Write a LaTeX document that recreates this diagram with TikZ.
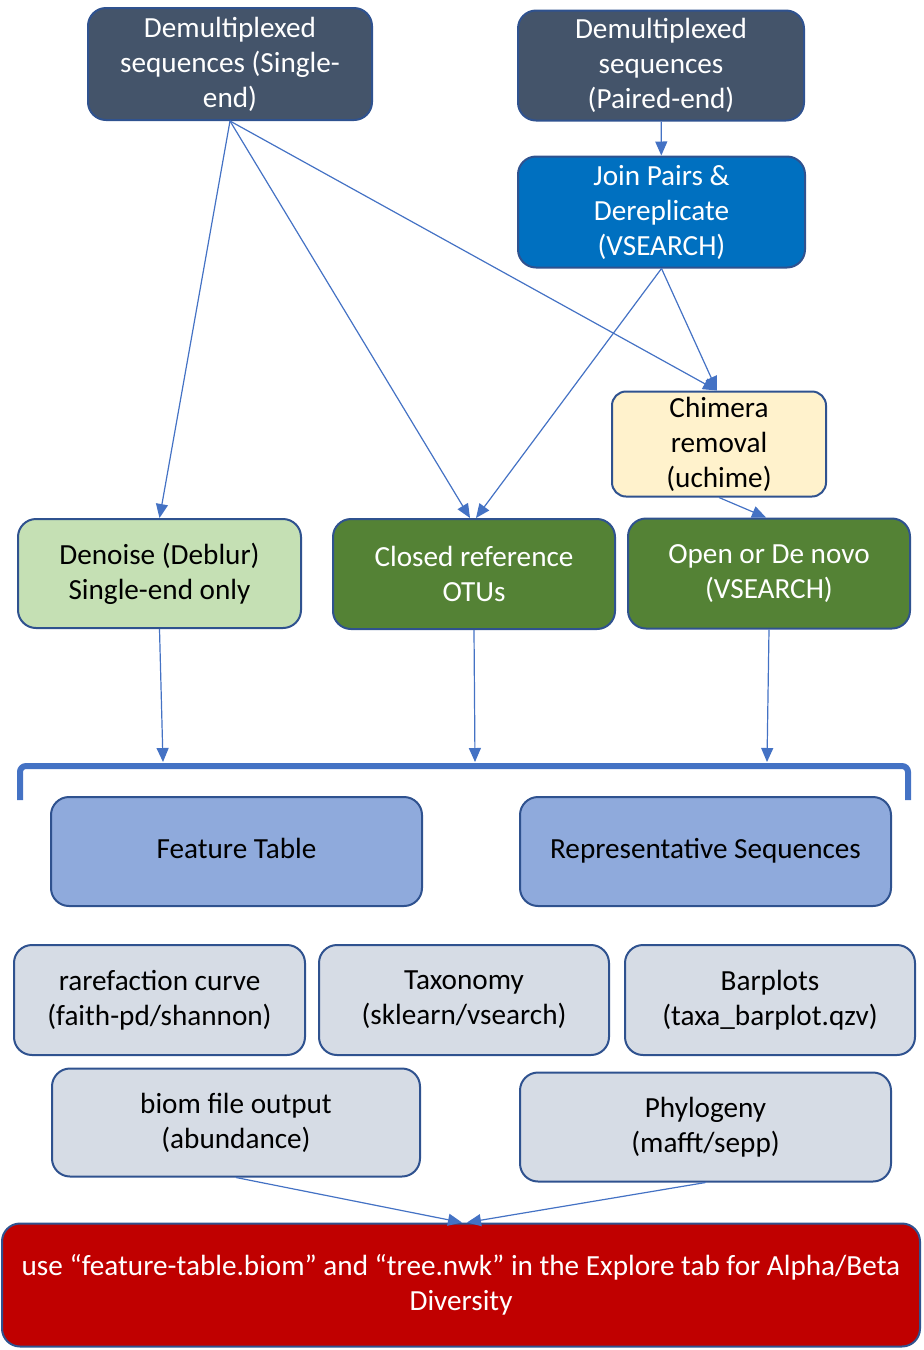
\documentclass[tikz,border=0pt]{standalone}
\usepackage{fontspec}
\setmainfont{Carlito}
\usepackage{tikz}
\usetikzlibrary{arrows.meta}
\definecolor{slate}{HTML}{44546A}
\definecolor{joinblue}{HTML}{0070C0}
\definecolor{cream}{HTML}{FFF2CC}
\definecolor{palegreen}{HTML}{C5E0B4}
\definecolor{darkgreen}{HTML}{548235}
\definecolor{midblue}{HTML}{8FAADC}
\definecolor{lightgrey}{HTML}{D6DCE5}
\definecolor{darkred}{HTML}{C00000}
\definecolor{edge}{HTML}{2F528F}
\definecolor{arrowblue}{HTML}{4472C4}
\tikzset{>/.tip={Triangle[length=7pt,width=6pt]},
  box/.style={draw=edge, line width=1pt, rounded corners=9pt, align=center,
    font=\fontsize{14.6}{17.5}\selectfont, inner sep=2pt},
  darkbox/.style={box, fill=slate, text=white},
  joinbox/.style={box, fill=joinblue, text=white},
  chimbox/.style={box, fill=cream, rounded corners=7pt},
  lightbox/.style={box, fill=palegreen},
  greenbox/.style={box, fill=darkgreen, text=white},
  outbox/.style={box, fill=midblue},
  greybox/.style={box, fill=lightgrey},
  redbox/.style={box, fill=darkred, text=white},
  flow/.style={->, draw=arrowblue, line width=0.6pt, color=arrowblue},
  bracket/.style={draw=arrowblue, line width=3pt, rounded corners=3pt}}

\begin{document}
\begin{tikzpicture}[x=0.5pt,y=-0.5pt]
\useasboundingbox (0,0) rectangle (924,1350);
\node[darkbox, minimum width=142pt, minimum height=56pt] (single) at (230,64) {Demultiplexed\\sequences (Single-\\end)};
\node[darkbox, minimum width=143pt, minimum height=55pt] (paired) at (661,65.5) {Demultiplexed\\sequences\\(Paired-end)};
\node[joinbox, minimum width=143.5pt, minimum height=55.5pt] (join) at (661.5,212) {Join Pairs \&\\Dereplicate\\(VSEARCH)};
\node[chimbox, minimum width=107pt, minimum height=52.5pt] (chimera) at (719,444) {Chimera\\removal\\(uchime)};
\node[lightbox, minimum width=141.5pt, minimum height=54.5pt] (denoise) at (159.5,573.5) {Denoise (Deblur)\\Single-end only};
\node[greenbox, minimum width=141pt, minimum height=55pt] (closed) at (474,574) {Closed reference\\OTUs};
\node[greenbox, minimum width=141pt, minimum height=55pt] (open) at (769,573.5) {Open or De novo\\(VSEARCH)};

\draw[bracket] (20,800) -- (20,766) -- (908,766) -- (908,800);
\coordinate (in1) at (163,762);
\coordinate (in2) at (475,762);
\coordinate (in3) at (767,762);

\node[outbox, minimum width=185.5pt, minimum height=54.5pt] (table) at (236.5,851.5) {Feature Table\strut};
\node[outbox, minimum width=185.5pt, minimum height=54.5pt] (repseq) at (705.5,851.5) {Representative Sequences\strut};
\node[greybox, minimum width=145.5pt, minimum height=55pt] (rare) at (159.5,1000) {rarefaction curve\\(faith-pd/shannon)};
\node[greybox, minimum width=145pt, minimum height=55pt] (taxa) at (464,1000) {Taxonomy\\(sklearn/vsearch)};
\node[greybox, minimum width=145pt, minimum height=55pt] (bars) at (770,1000) {Barplots\\(taxa\_barplot.qzv)};
\node[greybox, minimum width=184pt, minimum height=54pt] (biom) at (236,1122.5) {biom file output\\(abundance)};
\node[greybox, minimum width=185.5pt, minimum height=54.5pt] (phylo) at (705.5,1127) {Phylogeny\\(mafft/sepp)};
\node[redbox, minimum width=459pt, minimum height=61.5pt] (final) at (461,1285) {use “feature-table.biom” and “tree.nwk” in the Explore tab for Alpha/Beta\\Diversity};

\draw[flow] (paired) -- (join);
\draw[flow] (single.south) -- (denoise.north);
\draw[flow] (single.south) -- ([xshift=-2pt]closed.north);
\draw[flow] (single.south) -- ([xshift=-1pt]chimera.north);
\draw[flow] (join.south) -- ([xshift=1pt]closed.north);
\draw[flow] (join.south) -- ([xshift=-1pt]chimera.north);
\draw[flow] (chimera.south) -- ([xshift=-1.5pt]open.north);
\draw[flow] (denoise.south) -- (in1);
\draw[flow] (closed.south) -- (in2);
\draw[flow] (open.south) -- (in3);
\draw[flow] (biom.south) -- ([xshift=0.5pt]final.north);
\draw[flow] (phylo.south) -- ([xshift=3pt]final.north);
\end{tikzpicture}
\end{document}
